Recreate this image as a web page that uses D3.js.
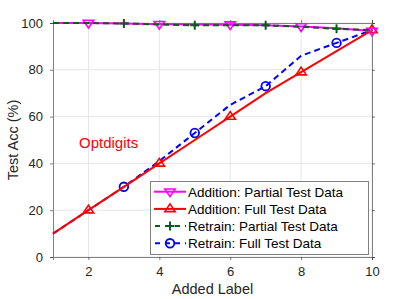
<!DOCTYPE html>
<html><head><meta charset="utf-8">
<script src="https://cdn.jsdelivr.net/npm/d3@7"></script>
<style>body{margin:0;background:#fff}text{font-family:"Liberation Sans",Arial,sans-serif}</style>
</head><body><svg id="c" width="411" height="299"></svg>
<script>
const xs = [1,2,3,4,5,6,7,8,9,10];
const addPartial = [100, 100, 99.8, 99.5, 99.4, 99.3, 99, 98.5, 97.8, 96.6];
const addFull = [10, 20, 30, 40, 50, 60, 70, 79, 88, 97];
const retPartial = [100, 100, 99.8, 99.4, 99, 99, 99, 98.4, 97.5, 97];
const retFull = [10, 20, 30, 41, 53, 65, 73, 86, 91.5, 97];
const addMarkIdx = [1,3,5,7,9];
const retMarkIdx = [2,4,6,8];
const xTicks = [2,4,6,8,10];
const yTicks = [0,20,40,60,80,100];
const seriesNames = ["Addition: Partial Test Data","Addition: Full Test Data","Retrain: Partial Test Data","Retrain: Full Test Data"];

const svg = d3.select("#c");
const m = {l:53, r:372, t:23, b:257};
const x = d3.scaleLinear().domain([1,10]).range([m.l, m.r]);
const y = d3.scaleLinear().domain([0,100]).range([m.b, m.t]);

// grid
const g = svg.append("g");
g.selectAll(".gx").data(xTicks).join("line").attr("x1",d=>x(d)).attr("x2",d=>x(d)).attr("y1",m.t).attr("y2",m.b).attr("stroke","#e6e6e6").attr("stroke-width",1);
g.selectAll(".gy").data(yTicks).join("line").attr("y1",d=>y(d)).attr("y2",d=>y(d)).attr("x1",m.l).attr("x2",m.r).attr("stroke","#e6e6e6").attr("stroke-width",1);

// axes
const ax = svg.append("g").attr("transform",`translate(0,${m.b})`).call(d3.axisBottom(x).tickValues(xTicks).tickSize(3).tickPadding(7));
const ay = svg.append("g").attr("transform",`translate(${m.l},0)`).call(d3.axisLeft(y).tickValues(yTicks).tickSize(3).tickPadding(7));
const axT = svg.append("g").attr("transform",`translate(0,${m.t})`).call(d3.axisTop(x).tickValues(xTicks).tickSize(3).tickFormat(""));
const ayR = svg.append("g").attr("transform",`translate(${m.r},0)`).call(d3.axisRight(y).tickValues(yTicks).tickSize(3).tickFormat(""));
[ax,ay,axT,ayR].forEach(a=>{
  a.selectAll("path,line").attr("stroke","#262626").attr("stroke-width",0.6);
  a.select(".domain").attr("stroke","#808080").attr("stroke-width",1);
  a.selectAll("text").attr("fill","#262626").style("font-size","13px").style("font-family","'Liberation Sans',Arial,sans-serif");
});
svg.append("text").attr("x",(m.l+m.r)/2).attr("y",294).attr("text-anchor","middle").attr("fill","#262626").style("font-size","14.5px").text("Added Label");
svg.append("text").attr("transform",`translate(18,${(m.t+m.b)/2}) rotate(-90)`).attr("text-anchor","middle").attr("fill","#262626").style("font-size","14.5px").text("Test Acc (%)");

const line = d3.line().x((d,i)=>x(xs[i])).y(d=>y(d));
const P = svg.append("g");

function tri(cx,cy,s,down){const h=s*0.87;return down?`M${cx-s},${cy-h*0.6}L${cx+s},${cy-h*0.6}L${cx},${cy+h*1.1}Z`:`M${cx-s},${cy+h*0.6}L${cx+s},${cy+h*0.6}L${cx},${cy-h*1.1}Z`;}
function drawMarker(sel,type,cx,cy,col){
  if(type==="down"||type==="up") sel.append("path").attr("d",tri(cx,cy,5.2,type==="down")).attr("fill","none").attr("stroke",col).attr("stroke-width",1.6);
  else if(type==="plus") sel.append("path").attr("d",`M${cx-4.5},${cy}H${cx+4.5}M${cx},${cy-4.5}V${cy+4.5}`).attr("stroke",col).attr("stroke-width",2);
  else sel.append("circle").attr("cx",cx).attr("cy",cy).attr("r",4.3).attr("fill","none").attr("stroke",col).attr("stroke-width",1.8);
}
const series = [
  {v:retFull,col:"#0000ff",dash:"6,4",mk:"circle",idx:retMarkIdx},
  {v:addFull,col:"#ff0000",dash:null,mk:"up",idx:addMarkIdx},
  {v:addPartial,col:"#ff00ff",dash:null,mk:"down",idx:addMarkIdx},
  {v:retPartial,col:"#0b5a1e",dash:"6,4",mk:"plus",idx:retMarkIdx},
];
series.forEach(s=>{
  const p = P.append("path").datum(s.v).attr("d",line).attr("fill","none").attr("stroke",s.col).attr("stroke-width",2);
  if(s.dash) p.attr("stroke-dasharray",s.dash);
  s.idx.forEach(i=>drawMarker(P,s.mk,x(xs[i]),y(s.v[i]),s.col));
});

svg.append("text").attr("x",79).attr("y",148).attr("fill","#ff0000").style("font-size","15px").text("Optdigits");

// legend
const L = svg.append("g");
L.append("rect").attr("x",150.5).attr("y",181.5).attr("width",218).attr("height",73).attr("fill","#fff").attr("stroke","#808080").attr("stroke-width",1);
const legOrder = [
  {col:"#ff00ff",dash:null,mk:"down"},
  {col:"#ff0000",dash:null,mk:"up"},
  {col:"#0b5a1e",dash:"6,4",mk:"plus"},
  {col:"#0000ff",dash:"6,4",mk:"circle"},
];
legOrder.forEach((s,i)=>{
  const cy = 191.7 + i*17.2;
  const l = L.append("line").attr("x1",154).attr("x2",186).attr("y1",cy).attr("y2",cy).attr("stroke",s.col).attr("stroke-width",2);
  if(s.dash) l.attr("stroke-dasharray","5,5").attr("stroke-dashoffset",-1);
  drawMarker(L,s.mk,170,cy,s.col);
  L.append("text").attr("x",188).attr("y",cy+5).attr("fill","#000").style("font-size","13.5px").text(seriesNames[i]);
});
</script></body></html>
